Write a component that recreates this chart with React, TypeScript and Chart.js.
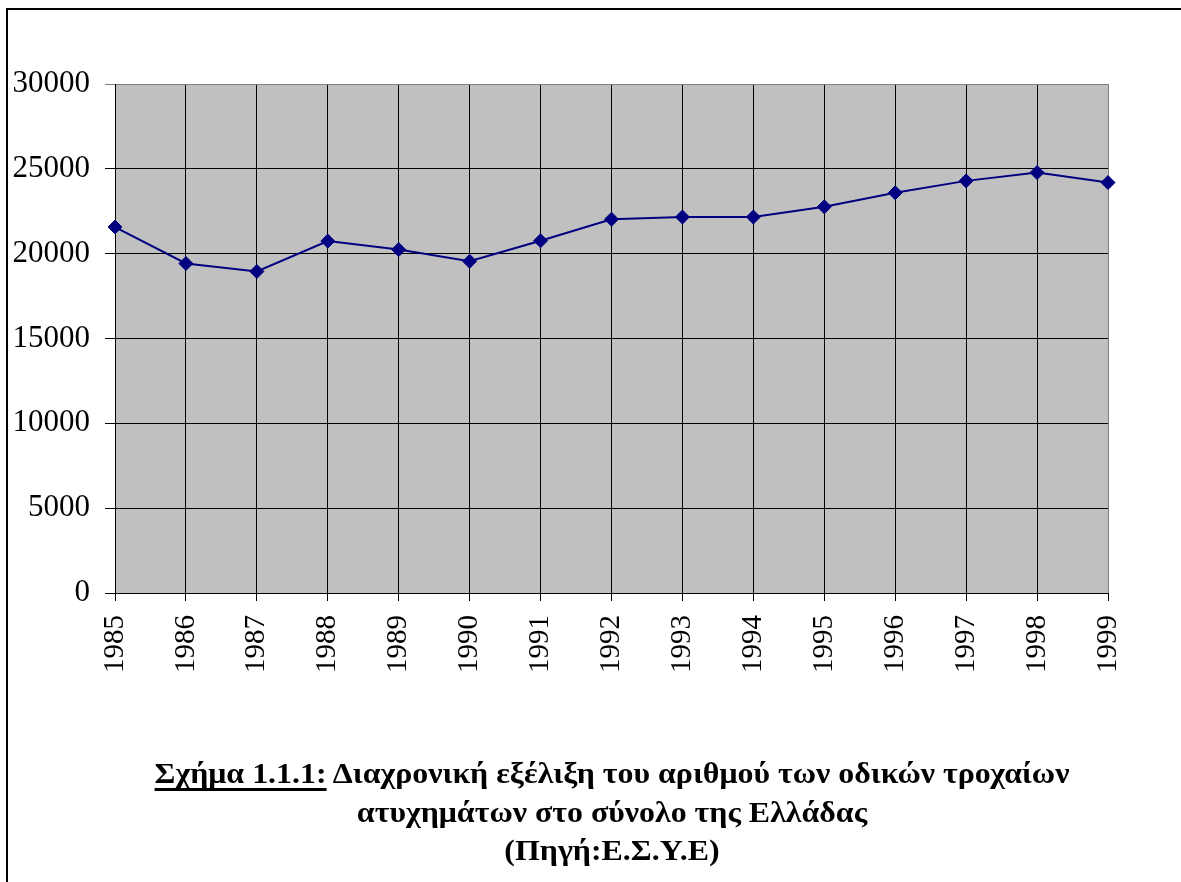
import React, { useEffect, useRef } from "react";
import { Chart, registerables } from "chart.js";

Chart.register(...registerables);

const years: string[] = ["1985","1986","1987","1988","1989","1990","1991","1992","1993","1994","1995","1996","1997","1998","1999"];
const accidents: number[] = [21570, 19420, 18950, 20740, 20240, 19550, 20760, 22030, 22160, 22160, 22760, 23590, 24290, 24780, 24190];
const yTicks: number[] = [0, 5000, 10000, 15000, 20000, 25000, 30000];

const FONT = "'Liberation Serif', 'Times New Roman', serif";

const plotBg = {
  id: "plotBg",
  beforeDraw(chart: any) {
    const { ctx, chartArea } = chart;
    ctx.save();
    ctx.fillStyle = "#C0C0C0";
    ctx.fillRect(chartArea.left, chartArea.top, chartArea.right - chartArea.left, chartArea.bottom - chartArea.top);
    ctx.restore();
  },
};

export default function App() {
  const ref = useRef<HTMLCanvasElement | null>(null);
  useEffect(() => {
    if (!ref.current) return;
    const chart = new Chart(ref.current, {
      type: "line",
      data: {
        labels: years,
        datasets: [
          {
            data: accidents,
            borderColor: "#000080",
            backgroundColor: "#000080",
            borderWidth: 2,
            pointStyle: "rectRot",
            pointRadius: 7,
            pointBorderWidth: 1,
            pointBorderColor: "#000080",
            pointBackgroundColor: "#000080",
            tension: 0,
          },
        ],
      },
      options: {
        animation: false,
        responsive: false,
        devicePixelRatio: 1,
        layout: { padding: { left: 0, top: 84, right: 73, bottom: 189 } },
        plugins: { legend: { display: false }, tooltip: { enabled: false }, title: { display: false } },
        scales: {
          x: {
            type: "category",
            offset: false,
            afterFit: (s: any) => { s.height = 100; },
            border: { display: true, color: "#000000", width: 1 },
            grid: {
              display: true,
              drawOnChartArea: true,
              drawTicks: true,
              tickLength: 8,
              lineWidth: 1,
              color: (c: any) => (c.index === years.length - 1 ? "#808080" : "#000000"),
              tickColor: "#000000",
            },
            ticks: {
              autoSkip: false,
              minRotation: 90,
              maxRotation: 90,
              padding: 14,
              color: "#000000",
              font: { family: FONT, size: 29 },
            },
          },
          y: {
            min: 0,
            max: 30000,
            afterFit: (s: any) => { s.width = 115; },
            afterBuildTicks: (s: any) => { s.ticks = yTicks.map((v) => ({ value: v })); },
            border: { display: true, color: "#000000", width: 1 },
            grid: {
              display: true,
              drawTicks: true,
              tickLength: 10,
              lineWidth: 1,
              color: (c: any) => (c.tick && c.tick.value === 30000 ? "#808080" : "#000000"),
              tickColor: (c: any) => (c.tick && c.tick.value === 30000 ? "#808080" : "#000000"),
            },
            ticks: {
              padding: 15,
              color: "#000000",
              font: { family: FONT, size: 31 },
              callback: (v: any) => String(v),
            },
          },
        },
      },
      plugins: [plotBg],
    });
    return () => chart.destroy();
  }, []);

  return (
    <div style={{ position: "absolute", left: 0, top: 0, width: 1181, height: 882, overflow: "hidden", background: "#fff" }}>
      <div style={{ position: "absolute", left: 6, top: 8, width: 1300, height: 1000, borderLeft: "2px solid #000", borderTop: "2px solid #000" }} />
      <canvas ref={ref} width={1181} height={882} style={{ position: "absolute", left: 0, top: 0, width: 1181, height: 882 }} />
      <div
        style={{
          position: "absolute",
          left: 112,
          top: 754,
          width: 1000,
          textAlign: "center",
          fontFamily: FONT,
          fontWeight: "bold",
          fontSize: 29,
          lineHeight: "38.5px",
          color: "#000",
          transform: "scaleX(1.1)",
          transformOrigin: "500px 0",
        }}
      >
        <span
          style={{
            textDecorationLine: "underline",
            textDecorationThickness: "3px",
            textUnderlineOffset: "5px",
            textDecorationSkipInk: "none",
          } as any}
        >
          Σχήμα 1.1.1:
        </span>{" "}
        Διαχρονική εξέλιξη του αριθμού των οδικών τροχαίων
        <br />
        ατυχημάτων στο σύνολο της Ελλάδας
        <br />
        (Πηγή:Ε.Σ.Υ.Ε)
      </div>
    </div>
  );
}
